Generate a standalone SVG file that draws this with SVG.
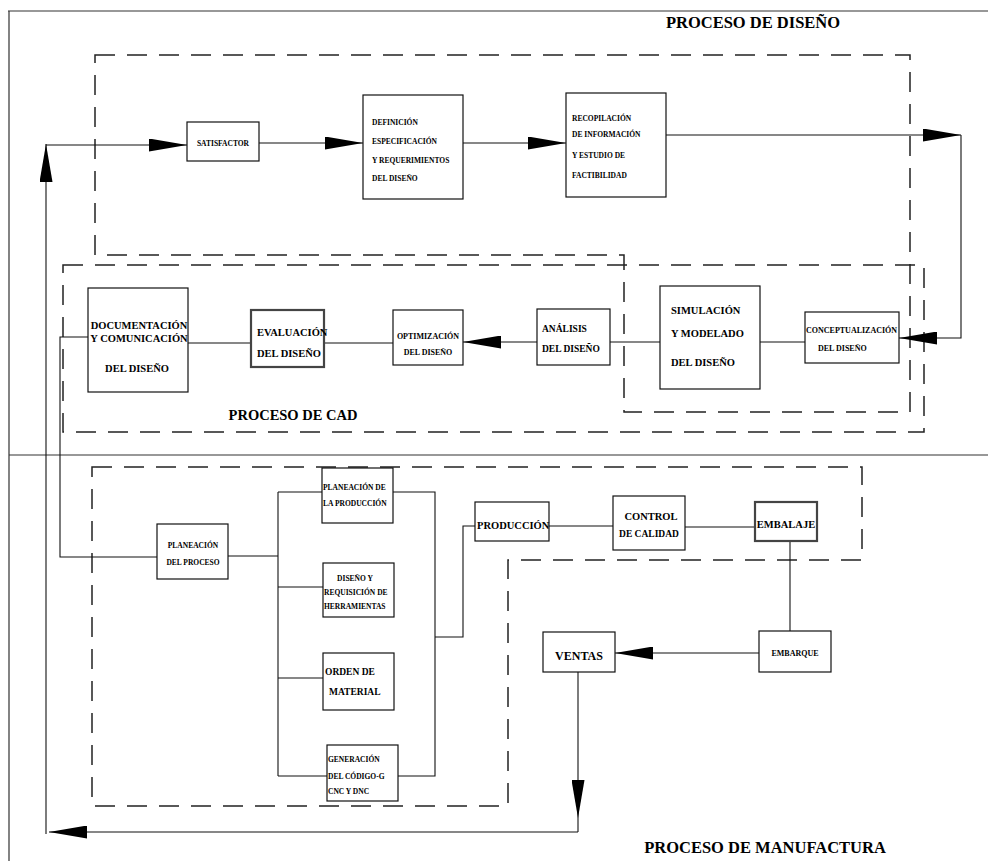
<svg xmlns="http://www.w3.org/2000/svg" width="988" height="861" viewBox="0 0 988 861">
<defs>
<marker id="ah" markerUnits="userSpaceOnUse" viewBox="0 0 38 13" markerWidth="38" markerHeight="13" refX="38" refY="6.5" orient="auto">
<path d="M0,0 L38,6.5 L0,13 Z" fill="#000"/>
</marker>
<style>
.bg{fill:#fff}
.frame{fill:none;stroke:#333;stroke-width:1.2}
.zone{fill:none;stroke:#222;stroke-width:1.5;stroke-dasharray:20 12}
.box{fill:#fff;stroke:#111;stroke-width:1.2}
.boxb{fill:#fff;stroke:#444;stroke-width:2.2}
.c{fill:none;stroke:#111;stroke-width:1.1}
.ca{fill:none;stroke:#111;stroke-width:1.1;marker-end:url(#ah)}
text{font-family:"Liberation Serif","Times New Roman",serif;font-weight:bold;fill:#000}
.t7{font-size:7.5px}
.t8{font-size:8px}
.t9{font-size:9.5px}
.t10{font-size:10.5px}
.t11{font-size:12px}
.title{font-size:16.5px}
.mid{text-anchor:middle}
</style>
</defs>
<rect class="bg" x="0" y="0" width="988" height="861"/>

<g id="frame">
<path class="frame" d="M8,11 H988 M9,11 V861 M9,455 H988"/>
</g>

<g id="zones">
<polygon id="zone-diseno" class="zone" points="95,55 910,55 910,412 624,412 624,255 95,255"/>
<rect id="zone-cad" class="zone" x="63" y="265" width="861" height="167"/>
<polygon id="zone-manufactura" class="zone" points="92,467 862,467 862,560 508,560 508,806 92,806"/>
</g>

<g id="titles">
<text class="title mid" x="753" y="28">PROCESO DE DISEÑO</text>
<text class="title mid" x="293" y="420" style="font-size:14.5px">PROCESO DE CAD</text>
<text class="title mid" x="765" y="853">PROCESO DE MANUFACTURA</text>
</g>

<g id="connectors">
<path class="ca" d="M46,145 H187"/>
<path class="ca" d="M259,143 H363"/>
<path class="ca" d="M463,143 H566"/>
<path class="ca" d="M666,135 H961"/>
<path class="ca" d="M961,135 V338 H899"/>
<path class="ca" d="M537,342 H463"/>
<path class="c" d="M188,343 H251"/>
<path class="c" d="M324,343 H393"/>
<path class="c" d="M610,342 H660"/>
<path class="c" d="M760,342 H805"/>
<path class="c" d="M88,337 H60 V557 H157"/>
<path class="c" d="M228,556 H278"/>
<path class="c" d="M278,492 V776"/>
<path class="c" d="M278,492 H322"/>
<path class="c" d="M278,587 H323"/>
<path class="c" d="M278,678 H323"/>
<path class="c" d="M278,776 H327"/>
<path class="c" d="M393,492 H435 V776 H398"/>
<path class="c" d="M435,637 H463 V526 H475"/>
<path class="c" d="M549,526 H613"/>
<path class="c" d="M685,527 H755"/>
<path class="c" d="M790,541 V631"/>
<path class="ca" d="M759,653 H615"/>
<path class="ca" d="M578,672 V818"/>
<path class="c" d="M578,818 V832"/>
<path class="ca" d="M578,832 H49"/>
<path class="ca" d="M46,834 V144"/>
</g>

<g id="n-satisfactor">
<rect class="box" x="187" y="122" width="72" height="39"/>
<text class="t7 mid" x="223" y="146">SATISFACTOR</text>
</g>
<g id="n-definicion">
<rect class="box" x="363" y="95" width="100" height="104"/>
<text class="t7" x="372" y="125">DEFINICIÓN</text>
<text class="t7" x="372" y="144">ESPECIFICACIÓN</text>
<text class="t7" x="372" y="163">Y REQUERIMIENTOS</text>
<text class="t7" x="372" y="181">DEL DISEÑO</text>
</g>
<g id="n-recopilacion">
<rect class="box" x="566" y="93" width="100" height="104"/>
<text class="t7" x="572" y="121">RECOPILACIÓN</text>
<text class="t7" x="572" y="137">DE INFORMACIÓN</text>
<text class="t7" x="572" y="158">Y ESTUDIO DE</text>
<text class="t7" x="572" y="178">FACTIBILIDAD</text>
</g>
<g id="n-documentacion">
<rect class="box" x="88" y="288" width="100" height="104"/>
<text class="t10 mid" x="139" y="329">DOCUMENTACIÓN</text>
<text class="t10 mid" x="139" y="342">Y COMUNICACIÓN</text>
<text class="t10 mid" x="137" y="372">DEL DISEÑO</text>
</g>
<g id="n-evaluacion">
<rect class="boxb" x="251" y="310" width="73" height="57"/>
<text class="t10" x="257" y="336">EVALUACIÓN</text>
<text class="t10" x="257" y="357">DEL DISEÑO</text>
</g>
<g id="n-optimizacion">
<rect class="box" x="393" y="310" width="70" height="55"/>
<text class="t8 mid" x="428" y="339">OPTIMIZACIÓN</text>
<text class="t8 mid" x="428" y="355">DEL DISEÑO</text>
</g>
<g id="n-analisis">
<rect class="box" x="537" y="309" width="73" height="56"/>
<text class="t9" x="542" y="332">ANÁLISIS</text>
<text class="t9" x="542" y="352">DEL DISEÑO</text>
</g>
<g id="n-simulacion">
<rect class="box" x="660" y="286" width="100" height="103"/>
<text class="t10" x="671" y="314">SIMULACIÓN</text>
<text class="t10" x="671" y="337">Y MODELADO</text>
<text class="t10" x="671" y="366">DEL DISEÑO</text>
</g>
<g id="n-conceptualizacion">
<rect class="box" x="805" y="312" width="94" height="51"/>
<text class="t8" x="806" y="333">CONCEPTUALIZACIÓN</text>
<text class="t8" x="818" y="351">DEL DISEÑO</text>
</g>
<g id="n-planeacion-proceso">
<rect class="box" x="157" y="524" width="71" height="55"/>
<text class="t7 mid" x="193" y="548">PLANEACIÓN</text>
<text class="t7 mid" x="193" y="565">DEL PROCESO</text>
</g>
<g id="n-planeacion-produccion">
<rect class="box" x="322" y="468" width="71" height="55"/>
<text class="t7" x="323" y="490">PLANEACIÓN DE</text>
<text class="t7" x="323" y="506">LA PRODUCCIÓN</text>
</g>
<g id="n-diseno-herramientas">
<rect class="box" x="323" y="563" width="71" height="54"/>
<text class="t7 mid" x="355" y="581">DISEÑO Y</text>
<text class="t7" x="324" y="595">REQUISICIÓN DE</text>
<text class="t7" x="324" y="609">HERRAMIENTAS</text>
</g>
<g id="n-orden-material">
<rect class="box" x="323" y="653" width="71" height="57"/>
<text class="t9" x="325" y="675">ORDEN DE</text>
<text class="t9" x="329" y="695">MATERIAL</text>
</g>
<g id="n-generacion">
<rect class="box" x="327" y="745" width="71" height="56"/>
<text class="t7" x="328" y="762">GENERACIÓN</text>
<text class="t7" x="328" y="779">DEL CÓDIGO-G</text>
<text class="t7" x="328" y="794">CNC Y DNC</text>
</g>
<g id="n-produccion">
<rect class="box" x="475" y="502" width="74" height="39"/>
<text class="t10" x="477" y="529">PRODUCCIÓN</text>
</g>
<g id="n-control">
<rect class="box" x="613" y="496" width="72" height="54"/>
<text class="t10 mid" x="651" y="520">CONTROL</text>
<text class="t9 mid" x="649" y="537">DE CALIDAD</text>
</g>
<g id="n-embalaje">
<rect class="boxb" x="755" y="502" width="62" height="39"/>
<text class="t10 mid" x="786" y="528">EMBALAJE</text>
</g>
<g id="n-embarque">
<rect class="box" x="759" y="631" width="72" height="41"/>
<text class="t8 mid" x="795" y="656">EMBARQUE</text>
</g>
<g id="n-ventas">
<rect class="box" x="543" y="632" width="72" height="40"/>
<text class="t11 mid" x="579" y="660">VENTAS</text>
</g>
</svg>
